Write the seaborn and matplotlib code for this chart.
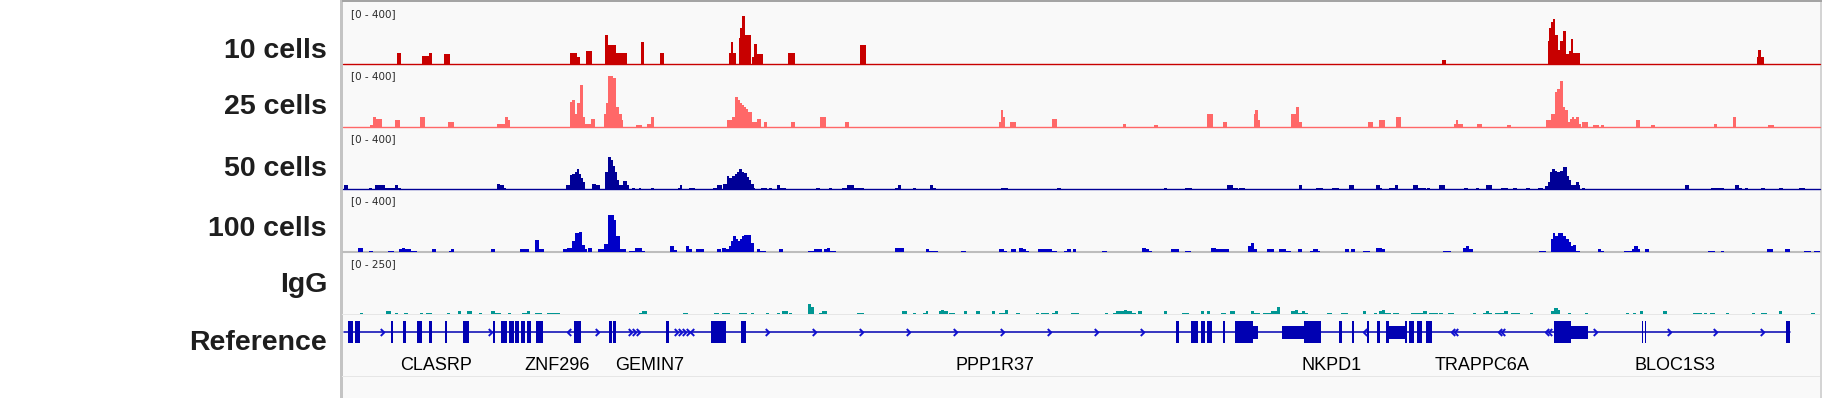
import numpy as np
import pandas as pd
import matplotlib
matplotlib.use("Agg")
import matplotlib.pyplot as plt
from matplotlib.path import Path
from matplotlib.patches import Rectangle
import seaborn as sns

# Data: coverage segments (start, end, value); positions in 100 bp steps from locus start
SPAN = 1477

CELLS10 = [
    (54, 58, 73), (79, 86, 53), (86, 89, 73), (101, 107, 66),
    (227, 234, 73), (234, 237, 49), (243, 249, 85),
    (262, 265, 188), (265, 273, 124), (273, 284, 73), (298, 301, 143), (317, 321, 73),
    (386, 388, 73), (388, 390, 143), (390, 393, 73), (396, 397, 169), (397, 399, 231),
    (399, 402, 310), (402, 408, 188), (409, 411, 47), (411, 414, 130), (414, 420, 66),
    (445, 452, 73), (517, 523, 124), (1099, 1103, 28),
    (1205, 1206, 150), (1206, 1208, 233), (1208, 1210, 271), (1210, 1212, 290),
    (1212, 1215, 188), (1215, 1217, 92), (1217, 1220, 150), (1220, 1223, 214),
    (1223, 1226, 66), (1226, 1228, 85), (1228, 1230, 162), (1230, 1237, 73),
    (1414, 1415, 47), (1415, 1418, 92), (1418, 1421, 47),
]

CELLS25 = [
    (27, 30, 9), (30, 33, 60), (33, 39, 47), (52, 57, 41), (77, 82, 60), (105, 111, 28),
    (154, 162, 21), (162, 165, 60), (165, 167, 41),
    (227, 229, 156), (229, 232, 169), (232, 234, 85), (234, 237, 150), (237, 240, 265),
    (240, 242, 66), (242, 248, 21), (248, 252, 47),
    (261, 263, 79), (263, 265, 150), (265, 270, 323), (270, 273, 310), (273, 276, 130),
    (276, 279, 79), (279, 280, 41), (293, 299, 9), (304, 308, 21), (308, 311, 66),
    (384, 389, 41), (389, 392, 66), (392, 395, 188), (395, 397, 175), (397, 399, 150),
    (399, 401, 137), (401, 403, 124), (403, 405, 111), (405, 409, 98), (409, 414, 28),
    (414, 418, 47), (421, 424, 28), (448, 452, 28), (477, 483, 60), (502, 506, 28),
    (656, 658, 28), (658, 660, 105), (660, 662, 66), (667, 673, 28), (709, 714, 47),
    (780, 783, 21), (811, 815, 9), (864, 866, 79), (866, 870, 85), (880, 884, 28),
    (911, 912, 79), (912, 915, 105), (915, 917, 41),
    (948, 953, 79), (953, 956, 124), (956, 959, 28),
    (1025, 1030, 28), (1036, 1042, 41), (1053, 1058, 60),
    (1111, 1113, 21), (1113, 1115, 41), (1115, 1120, 21), (1134, 1139, 21), (1164, 1168, 9),
    (1203, 1208, 41), (1208, 1212, 85), (1212, 1214, 220), (1214, 1217, 242),
    (1217, 1220, 291), (1220, 1222, 130), (1222, 1225, 105), (1225, 1227, 28),
    (1227, 1229, 47), (1229, 1231, 66), (1231, 1233, 53), (1233, 1236, 66),
    (1236, 1238, 21), (1239, 1245, 28), (1250, 1256, 9), (1258, 1261, 9),
    (1293, 1297, 41), (1308, 1312, 9), (1371, 1374, 21), (1390, 1393, 66), (1425, 1431, 9),
]

CELLS50 = [
    (1, 5, 26), (26, 29, 6), (32, 42, 26), (42, 52, 6), (52, 55, 26), (55, 58, 6),
    (154, 157, 32), (157, 161, 26), (161, 163, 6),
    (223, 227, 26), (227, 229, 90), (229, 232, 96), (232, 234, 109), (234, 236, 128),
    (236, 238, 96), (238, 240, 71), (240, 242, 45), (249, 253, 32), (253, 257, 26),
    (262, 265, 109), (265, 268, 205), (268, 270, 186), (270, 272, 147), (272, 274, 109),
    (274, 276, 58), (276, 280, 26), (280, 284, 51), (284, 286, 26),
    (289, 292, 6), (296, 298, 6), (308, 311, 6), (335, 337, 6), (337, 339, 26), (346, 352, 6),
    (370, 374, 6), (374, 379, 26), (380, 384, 32), (384, 386, 83), (386, 389, 71),
    (389, 392, 83), (392, 394, 96), (394, 396, 109), (396, 399, 128), (399, 401, 109),
    (401, 404, 103), (404, 406, 77), (406, 408, 58), (408, 411, 32), (411, 412, 6),
    (418, 424, 6), (426, 429, 6), (434, 437, 26), (437, 443, 6),
    (473, 477, 6), (486, 489, 6), (499, 504, 6), (504, 511, 26), (511, 521, 6),
    (552, 555, 6), (555, 558, 26), (570, 573, 6), (587, 590, 26), (590, 593, 6),
    (658, 665, 6), (714, 718, 6), (821, 824, 6), (842, 849, 6),
    (884, 890, 26), (890, 895, 6), (896, 902, 6), (956, 959, 26),
    (973, 980, 6), (989, 996, 6), (1006, 1011, 26), (1033, 1037, 26), (1037, 1039, 6),
    (1046, 1052, 6), (1052, 1055, 26), (1070, 1075, 26), (1075, 1083, 6), (1084, 1087, 6),
    (1096, 1102, 26), (1121, 1125, 6), (1133, 1136, 6), (1143, 1149, 26), (1158, 1165, 6),
    (1170, 1174, 6), (1183, 1187, 6), (1195, 1200, 6),
    (1202, 1205, 19), (1205, 1207, 45), (1207, 1209, 109), (1209, 1212, 128),
    (1212, 1214, 115), (1214, 1217, 109), (1217, 1220, 115), (1220, 1224, 141),
    (1224, 1226, 83), (1226, 1228, 58), (1228, 1233, 26), (1233, 1236, 45),
    (1236, 1237, 26), (1239, 1242, 6), (1342, 1346, 26),
    (1368, 1381, 6), (1392, 1396, 26), (1396, 1399, 6), (1402, 1405, 6), (1418, 1422, 6),
    (1436, 1440, 6), (1456, 1462, 6),
]

CELLS100 = [
    (15, 20, 23), (26, 30, 6), (45, 51, 6), (56, 59, 17), (59, 62, 23), (62, 68, 17),
    (68, 74, 6), (89, 93, 17), (106, 108, 6), (108, 111, 17), (148, 152, 17),
    (177, 186, 17), (192, 196, 75), (196, 201, 17),
    (220, 224, 17), (224, 229, 23), (229, 232, 68), (232, 236, 120), (236, 239, 126),
    (239, 242, 43), (242, 244, 17), (245, 249, 23), (255, 261, 17), (261, 265, 49),
    (265, 271, 235), (271, 273, 203), (273, 277, 100), (277, 283, 17),
    (286, 292, 6), (292, 299, 23), (299, 302, 6), (327, 331, 36), (331, 334, 11),
    (343, 346, 36), (346, 349, 17), (353, 361, 17),
    (374, 378, 17), (379, 383, 23), (383, 386, 17), (386, 388, 36), (388, 390, 68),
    (390, 393, 100), (393, 395, 81), (395, 397, 68), (397, 399, 81), (399, 401, 100),
    (401, 408, 107), (408, 411, 56), (414, 417, 17), (417, 423, 6), (436, 440, 17),
    (465, 471, 6), (471, 479, 17), (481, 484, 17), (484, 487, 23), (487, 493, 6),
    (552, 561, 23), (583, 586, 17), (586, 595, 6), (618, 623, 6),
    (656, 661, 17), (661, 664, 6), (668, 673, 17), (676, 680, 23), (680, 683, 17),
    (683, 686, 6), (695, 709, 17), (709, 714, 6), (721, 724, 6), (724, 728, 17),
    (730, 733, 17), (759, 764, 6), (799, 803, 23), (803, 806, 17), (806, 809, 6),
    (828, 836, 17), (842, 848, 6), (868, 873, 23), (873, 886, 17),
    (905, 908, 36), (908, 911, 56), (911, 914, 17), (924, 931, 17), (936, 943, 17),
    (943, 948, 6), (955, 959, 17), (967, 970, 6), (970, 975, 17), (975, 977, 6),
    (1002, 1006, 17), (1008, 1012, 17), (1020, 1027, 6), (1033, 1039, 23), (1039, 1042, 17),
    (1100, 1108, 6), (1120, 1123, 23), (1123, 1126, 36), (1126, 1130, 17), (1196, 1203, 6),
    (1208, 1210, 81), (1210, 1212, 120), (1212, 1215, 100), (1215, 1220, 120),
    (1220, 1223, 100), (1223, 1226, 81), (1226, 1228, 62), (1228, 1230, 36),
    (1230, 1233, 43), (1233, 1237, 6), (1255, 1258, 17), (1258, 1261, 6),
    (1281, 1289, 6), (1289, 1291, 17), (1291, 1295, 36), (1295, 1297, 17), (1302, 1306, 17),
    (1365, 1372, 6), (1378, 1381, 6), (1424, 1430, 17), (1442, 1447, 17),
    (1461, 1468, 6), (1471, 1477, 6),
]

IGG = [
    (17, 20, 4), (43, 48, 12), (52, 55, 4), (61, 65, 4), (77, 80, 4), (83, 89, 4),
    (104, 107, 4), (115, 118, 12), (124, 129, 12), (136, 139, 4), (148, 152, 12),
    (152, 158, 4), (165, 168, 4), (179, 184, 4), (184, 187, 12), (192, 199, 4),
    (204, 217, 4), (296, 299, 4), (299, 304, 12), (340, 345, 4),
    (371, 376, 4), (379, 387, 4), (396, 404, 4), (408, 411, 4), (423, 426, 4),
    (434, 437, 4), (439, 445, 12), (446, 449, 4), (465, 468, 40), (468, 471, 28),
    (476, 479, 4), (479, 484, 12), (514, 521, 4), (559, 564, 12), (570, 573, 4),
    (580, 583, 4), (583, 585, 12), (596, 598, 12), (598, 601, 16), (601, 605, 12),
    (606, 612, 4), (621, 624, 12), (633, 637, 12), (649, 652, 12), (656, 662, 4),
    (662, 665, 16), (673, 677, 4), (693, 696, 4), (698, 706, 4), (709, 712, 4),
    (712, 715, 12), (728, 736, 4), (762, 765, 4), (770, 773, 4), (773, 781, 12),
    (781, 784, 16), (784, 789, 12), (789, 793, 4), (795, 799, 12), (821, 824, 12),
    (839, 846, 4), (858, 861, 12), (864, 867, 12), (878, 883, 4), (887, 892, 12),
    (908, 911, 12), (911, 917, 4), (920, 928, 4), (928, 934, 12), (934, 937, 28),
    (948, 952, 12), (952, 955, 16), (955, 959, 4), (959, 962, 12), (962, 965, 4),
    (984, 989, 4), (998, 1005, 4), (1020, 1023, 12), (1031, 1034, 4), (1036, 1039, 12),
    (1039, 1042, 16), (1042, 1048, 4), (1050, 1056, 4), (1068, 1080, 4), (1080, 1084, 12),
    (1086, 1095, 4), (1096, 1100, 4), (1105, 1111, 4), (1130, 1133, 4), (1140, 1143, 4),
    (1143, 1146, 12), (1146, 1149, 4), (1152, 1161, 4), (1161, 1165, 12), (1168, 1177, 4),
    (1187, 1190, 4), (1208, 1211, 12), (1211, 1215, 24), (1215, 1217, 16), (1225, 1228, 4),
    (1242, 1245, 4), (1283, 1286, 4), (1290, 1293, 4), (1297, 1300, 12), (1320, 1324, 12),
    (1350, 1359, 4), (1361, 1364, 4), (1367, 1372, 4), (1383, 1386, 4), (1409, 1412, 4),
    (1418, 1424, 4), (1436, 1439, 12), (1468, 1472, 4),
]

TRACK_NAMES = ["10 cells", "25 cells", "50 cells", "100 cells", "IgG"]
TRACK_DATA = [CELLS10, CELLS25, CELLS50, CELLS100, IGG]
TRACK_MAX = [400, 400, 400, 400, 250]
TRACK_COLORS = ["#c80000", "#ff6868", "#000096", "#0000c8", "#009693"]

# gene model: exons (start, end, tall coding block?)
EXONS = [
    (5, 10, True), (12, 17, True), (48, 50, True), (60, 63, True), (74, 79, True),
    (86, 89, True), (102, 104, True), (120, 126, True),
    (150, 152, True), (158, 164, True), (166, 171, True), (172, 176, True),
    (178, 182, True), (184, 188, True), (193, 200, True), (231, 238, True),
    (266, 269, True), (270, 273, True), (323, 326, True), (368, 383, True), (398, 403, True),
    (833, 836, True), (848, 855, True), (858, 862, True), (864, 869, True), (880, 882, True),
    (892, 910, True), (910, 915, False), (939, 961, False), (961, 978, True),
    (996, 999, True), (1009, 1011, True), (1024, 1026, True), (1034, 1037, True),
    (1043, 1046, True), (1046, 1062, False), (1062, 1064, True), (1066, 1071, True),
    (1074, 1079, True), (1083, 1089, True), (1211, 1228, True), (1228, 1245, False),
    (1299, 1300, True), (1302, 1303, True), (1443, 1447, True),
]
GENE_START, GENE_END = 1, 1447
ARROWS_RIGHT = [39, 147, 254, 287, 291, 295, 333, 337, 341, 345, 424, 471, 518, 565,
                612, 659, 706, 753, 799, 1252, 1326, 1372, 1419]
ARROWS_LEFT = [226, 349, 1022, 1110, 1113, 1157, 1160, 1204, 1207]
GENE_NAMES = ["CLASRP", "ZNF296", "GEMIN7", "PPP1R37", "NKPD1", "TRAPPC6A", "BLOC1S3"]
GENE_NAME_POS = [93, 214, 307, 652, 989, 1139, 1332]

# Layout (pixels)
W_PX, H_PX = 1825, 398
X0, X1 = 343, 1820
TRACK_TOP, TRACK_H = 2, 62.4
LABEL_Y = [51.5, 106.5, 168.5, 229.5, 284.5, 342.5]
GENE_COLOR = "#0000b2"

sns.set_style("white")
plt.rcParams["font.family"] = ["Liberation Sans", "DejaVu Sans"]

fig = plt.figure(figsize=(W_PX / 100, H_PX / 100), dpi=100)


def px_axes(x0, y0, x1, y1):
    return fig.add_axes([x0 / W_PX, 1 - y1 / H_PX, (x1 - x0) / W_PX, (y1 - y0) / H_PX])


# panel background and frame
bg = px_axes(340, 0, W_PX, H_PX)
bg.set_xlim(340, W_PX)
bg.set_ylim(H_PX, 0)
bg.axis("off")
bg.add_patch(Rectangle((342, 0), X1 - 342, H_PX, color="#f9f9f9", lw=0))
bg.add_patch(Rectangle((340, 0), 2.5, H_PX, color="#c4c4c4", lw=0))
bg.add_patch(Rectangle((X1, 0), 2, H_PX, color="#d4d4d4", lw=0))
bg.add_patch(Rectangle((342, 0), X1 - 340, 2.2, color="#a4a4a4", lw=0))
bg.add_patch(Rectangle((342, 313.5), X1 - 342, 1.2, color="#e6e6e6", lw=0))
bg.add_patch(Rectangle((342, 375.5), X1 - 342, 1.2, color="#e6e6e6", lw=0))

for i, (name, segs, ymax, color) in enumerate(zip(TRACK_NAMES, TRACK_DATA, TRACK_MAX, TRACK_COLORS)):
    top = TRACK_TOP + i * TRACK_H
    ax = px_axes(X0, top, X1, top + TRACK_H)
    ax.patch.set_alpha(0)
    df = pd.DataFrame(segs, columns=["start", "end", "cov"])
    df["mid"] = (df["start"] + df["end"]) / 2
    edges = np.unique(np.concatenate([[0, SPAN], df["start"], df["end"]])).tolist()
    sns.histplot(data=df, x="mid", weights="cov", bins=edges,
                 element="step", fill=True, color=color, alpha=1, linewidth=0, ax=ax)
    if i < 3:
        ax.axhline(0, color=color, lw=1.0, clip_on=False, zorder=0)
    elif i == 3:
        ax.axhline(0, color="#bdbdbd", lw=1.5, clip_on=False, zorder=0)
    ax.set_xlim(0, SPAN)
    ax.set_ylim(0, ymax)
    ax.axis("off")
    fig.text(351 / W_PX, 1 - (top + 12) / H_PX, f"[0 - {ymax}]", fontsize=7.5,
             family="DejaVu Sans", color="#2a2a2a", ha="left", va="center")

for name, y in zip(TRACK_NAMES + ["Reference"], LABEL_Y):
    fig.text(327 / W_PX, 1 - y / H_PX, name, ha="right", va="center",
             fontsize=20.5, fontweight="bold", color="#1e1e1e")

# gene track, local y in pixels from the track top
gx = px_axes(X0, 314, X1, 376)
gx.patch.set_alpha(0)
gx.set_xlim(0, SPAN)
gx.set_ylim(62, 0)
gx.axis("off")
gx.plot([GENE_START, GENE_END], [18, 18], color=GENE_COLOR, lw=1.1)
tall = [(s, e - s) for s, e, c in EXONS if c]
short = [(s, e - s) for s, e, c in EXONS if not c]
gx.broken_barh(tall, (7, 22), facecolors=GENE_COLOR, lw=0)
gx.broken_barh(short, (12, 13), facecolors=GENE_COLOR, lw=0)

chev_r = Path([(-0.5, 1), (0.5, 0), (-0.5, -1)], [Path.MOVETO, Path.LINETO, Path.LINETO])
chev_l = Path([(0.5, 1), (-0.5, 0), (0.5, -1)], [Path.MOVETO, Path.LINETO, Path.LINETO])
gx.plot(ARROWS_RIGHT, [18] * len(ARROWS_RIGHT), ls="none", marker=chev_r, ms=5,
        mfc="none", mec="#1010d0", mew=1.4)
gx.plot(ARROWS_LEFT, [18] * len(ARROWS_LEFT), ls="none", marker=chev_l, ms=5,
        mfc="none", mec="#1010d0", mew=1.4)
for name, pos in zip(GENE_NAMES, GENE_NAME_POS):
    gx.text(pos, 51, name, ha="center", va="center", fontsize=13, color="black")

fig.savefig("out.png", dpi=100, facecolor="white")
